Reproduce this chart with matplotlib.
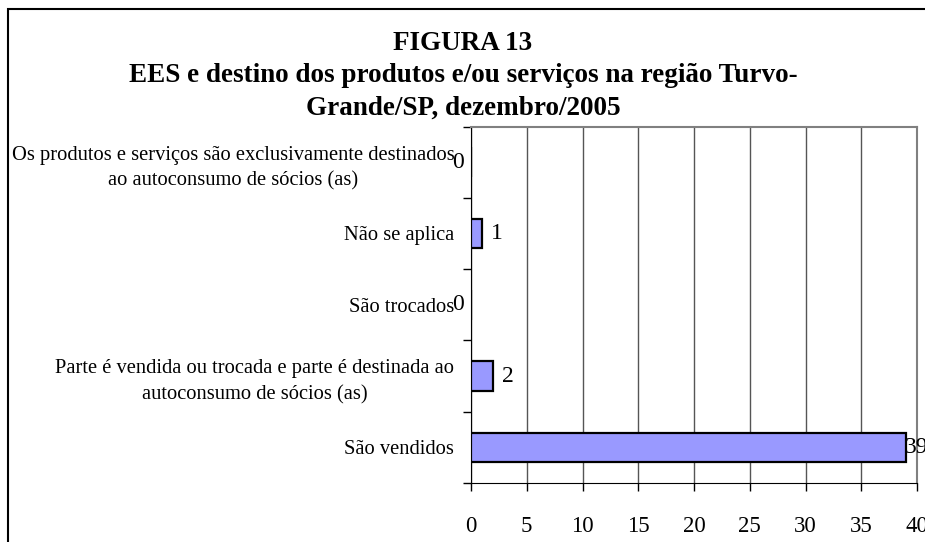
import matplotlib

matplotlib.use("Agg")

import matplotlib.pyplot as plt
from matplotlib.patches import Rectangle
import numpy as np

# data, bottom to top as drawn
categories = [
    "São vendidos",
    "Parte é vendida ou trocada e parte é destinada ao\nautoconsumo de sócios (as)",
    "São trocados",
    "Não se aplica",
    "Os produtos e serviços são exclusivamente destinados\nao autoconsumo de sócios (as)",
]
values = [39, 2, 0, 1, 0]
x_ticks = [0, 5, 10, 15, 20, 25, 30, 35, 40]

title = ("FIGURA 13\nEES e destino dos produtos e/ou serviços na região Turvo-\n"
         "Grande/SP, dezembro/2005")

plt.rcParams["font.family"] = ["Liberation Serif", "DejaVu Serif"]

W, H = 925, 542
fig = plt.figure(figsize=(W / 100, H / 100), dpi=100)
fig.patch.set_facecolor("white")

# outer chart border (only top and left visible in the crop)
fig.patches.append(Rectangle((8 / W, -0.1), 1.2, (H - 9) / H + 0.1,
                             transform=fig.transFigure, fill=False,
                             edgecolor="black", linewidth=1.5))

left, right, top, bottom = 471, 917, 126.5, 483
ax = fig.add_axes([left / W, (H - bottom) / H, (right - left) / W, (bottom - top) / H])

ypos = np.arange(len(categories))
ax.barh(ypos, values, height=0.415, color="#9999FF", edgecolor="black",
        linewidth=1.6, zorder=3)

ax.set_xticks(x_ticks)
ax.set_xticklabels([str(t) for t in x_ticks], fontsize=16.5)
ax.set_yticks(ypos)
ax.set_yticklabels(categories, fontsize=14.8, multialignment="center", linespacing=1.45)
ax.set_yticks(np.arange(-0.5, len(categories), 1.0), minor=True)
ax.set_xlim(0, 40)
ax.set_ylim(-0.5, len(categories) - 0.5)
ax.tick_params(axis="y", which="major", length=0, pad=12)
ax.tick_params(axis="y", which="minor", length=6, width=1, color="black")
ax.tick_params(axis="x", length=6, width=1, pad=18)

ax.grid(axis="x", color="#555555", linewidth=1, zorder=0)
ax.spines["top"].set_color("#808080")
ax.spines["right"].set_color("#808080")
ax.spines["top"].set_linewidth(1.5)
ax.spines["right"].set_linewidth(1.5)
ax.spines["left"].set_color("black")
ax.spines["bottom"].set_color("black")

for y, v in zip(ypos, values):
    if v == 0:
        dx = -19
    elif v >= 38:
        dx = -1
    else:
        dx = 9
    ax.annotate(str(v), (v, y), xytext=(dx * 0.72, 0), textcoords="offset points",
                ha="left", va="center", fontsize=17, annotation_clip=False, zorder=4)

fig.text(463 / W, 1 - 76 / H, title, ha="center", va="center", fontsize=19.5,
         fontweight="bold", linespacing=1.37)

fig.savefig("out.png", dpi=100)
